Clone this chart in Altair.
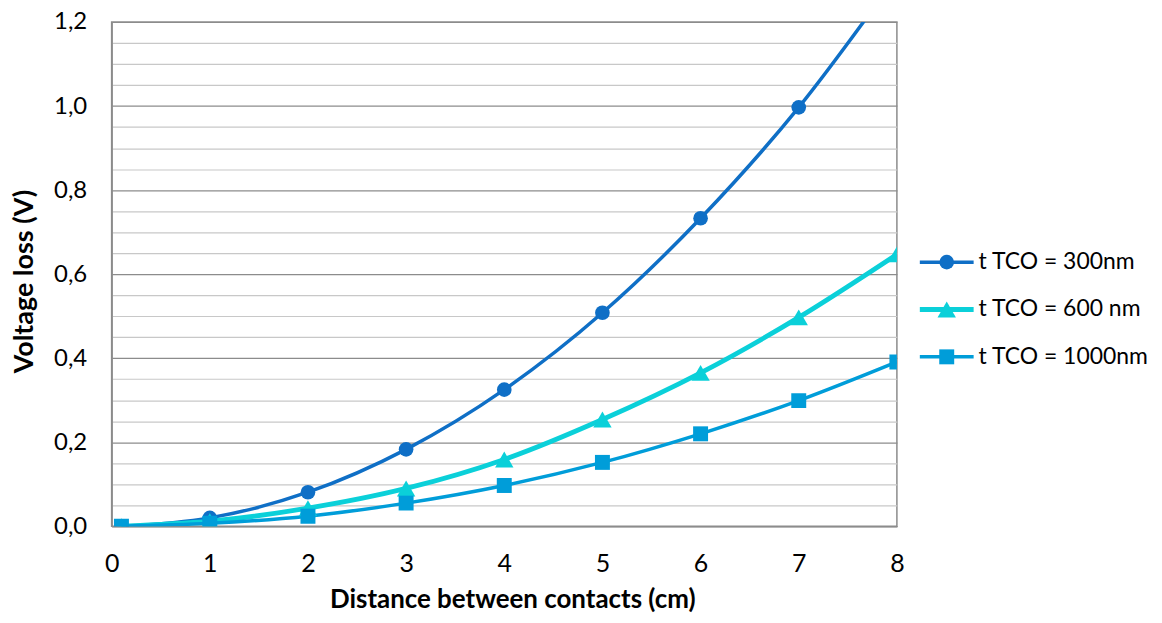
import altair as alt
import pandas as pd

distance = [0.1, 1, 2, 3, 4, 5, 6, 7, 8]
loss_300 = [0.0, 0.02, 0.081, 0.183, 0.325, 0.508, 0.733, 0.997, 1.31]
loss_600 = [0.0, 0.012, 0.043, 0.09, 0.159, 0.254, 0.365, 0.497, 0.647]
loss_1000 = [0.0, 0.007, 0.024, 0.055, 0.097, 0.152, 0.22, 0.299, 0.391]

series = ["t TCO = 300nm", "t TCO = 600 nm", "t TCO = 1000nm"]
colors = ["#0F6FC6", "#0BD0D9", "#009DD9"]
line_widths = [3.5, 4.8, 3.5]
marker_shapes = ["circle", "triangle-up", "square"]
marker_sizes = [216, 340, 225]

x_ticks = [0, 1, 2, 3, 4, 5, 6, 7, 8]
y_major = [0.0, 0.2, 0.4, 0.6, 0.8, 1.0, 1.2]
y_minor = [0.05, 0.1, 0.15, 0.25, 0.3, 0.35, 0.45, 0.5, 0.55, 0.65, 0.7, 0.75,
           0.85, 0.9, 0.95, 1.05, 1.1, 1.15]

rows = []
for name, vals in zip(series, [loss_300, loss_600, loss_1000]):
    for d, v in zip(distance, vals):
        rows.append({"distance": d, "loss": v, "series": name})
df = pd.DataFrame(rows)
legend_df = pd.DataFrame({"series": series})

FONT = "Lato"
GRID_MAJOR = "#8C8C8C"
GRID_MINOR = "#C8C8C8"

x_enc = alt.X(
    "distance:Q",
    scale=alt.Scale(domain=[0, 8], nice=False),
    axis=alt.Axis(
        values=x_ticks, grid=False, ticks=False, domainColor=GRID_MAJOR, domainWidth=1.5,
        labelFont=FONT, labelFontSize=25, labelColor="black", labelPadding=25,
        labelFlush=False, format="d",
        title="Distance between contacts (cm)", titleFont=FONT, titleFontSize=26,
        titleFontWeight="bold", titleColor="black", titleX=402, titleY=74,
        titleBaseline="middle", titleAlign="center",
    ),
)
y_scale = alt.Scale(domain=[0, 1.2], nice=False)
y_major_axis = alt.Axis(
    values=y_major, grid=True, gridColor=GRID_MAJOR, gridWidth=1.2, ticks=False,
    domainColor=GRID_MAJOR, domainWidth=1.5, orient="left", labelFlush=False,
    labelFont=FONT, labelFontSize=24, labelColor="black", labelPadding=25,
    labelExpr="replace(format(datum.value, '.1f'), '.', ',')",
    title="Voltage loss (V)", titleFont=FONT, titleFontSize=27, titleFontWeight="bold",
    titleColor="black", titleX=-87, titleY=260, titleAngle=-90,
    titleBaseline="middle", titleAlign="center",
)
y_minor_axis = alt.Axis(
    values=y_minor, grid=True, gridColor=GRID_MINOR, gridWidth=1.2, ticks=False,
    labels=False, domain=False, title=None, orient="left",
)

color_scale = alt.Scale(domain=series, range=colors)

minor = alt.Chart(df).mark_line(opacity=0).encode(
    x=x_enc, y=alt.Y("loss:Q", scale=y_scale, axis=y_minor_axis),
)
major = alt.Chart(df).mark_line(opacity=0).encode(
    x=x_enc, y=alt.Y("loss:Q", scale=y_scale, axis=y_major_axis),
)

layers = [minor, major]
for name, w in zip(series, line_widths):
    layers.append(
        alt.Chart(df).transform_filter(alt.datum.series == name)
        .mark_line(interpolate="monotone", clip=True, strokeWidth=w)
        .encode(
            x=x_enc,
            y=alt.Y("loss:Q", scale=y_scale, axis=None),
            color=alt.Color("series:N", scale=color_scale, legend=None),
        )
    )
for name, shp, sz in zip(series, marker_shapes, marker_sizes):
    layers.append(
        alt.Chart(df).transform_filter(alt.datum.series == name)
        .mark_point(filled=True, shape=shp, size=sz, opacity=1, clip=True)
        .encode(
            x=x_enc,
            y=alt.Y("loss:Q", scale=y_scale, axis=None),
            color=alt.Color("series:N", scale=color_scale, legend=None),
        )
    )

# legend drawn to the right of the plot: one row per series
legend_y = alt.Y("series:N", axis=None,
                 scale=alt.Scale(type="point", domain=series, range=[241, 336], padding=0))
for name, w, shp, sz in zip(series, line_widths, marker_shapes, marker_sizes):
    entry = alt.Chart(legend_df).transform_filter(alt.datum.series == name)
    layers.append(
        entry.mark_rule(strokeWidth=w).encode(
            x=alt.value(811), x2=alt.value(865), y=legend_y,
            color=alt.Color("series:N", scale=color_scale, legend=None),
        )
    )
    layers.append(
        entry.mark_point(filled=True, shape=shp, size=sz, opacity=1).encode(
            x=alt.value(838), y=legend_y,
            color=alt.Color("series:N", scale=color_scale, legend=None),
        )
    )
layers.append(
    alt.Chart(legend_df).mark_text(
        align="left", baseline="middle", font=FONT, fontSize=23, color="black"
    ).encode(x=alt.value(870), y=legend_y, text="series:N")
)

chart = (
    alt.layer(*layers)
    .resolve_scale(y="independent")
    .resolve_axis(y="independent")
    .properties(
        width=788, height=506,
        autosize=alt.AutoSizeParams(type="none"),
        padding={"left": 104, "top": 13, "right": 258, "bottom": 90},
        background="white",
    )
    .configure_view(stroke=GRID_MAJOR, strokeWidth=1.5)
)

chart.save("out.html", embed_options={"renderer": "svg", "actions": False})
